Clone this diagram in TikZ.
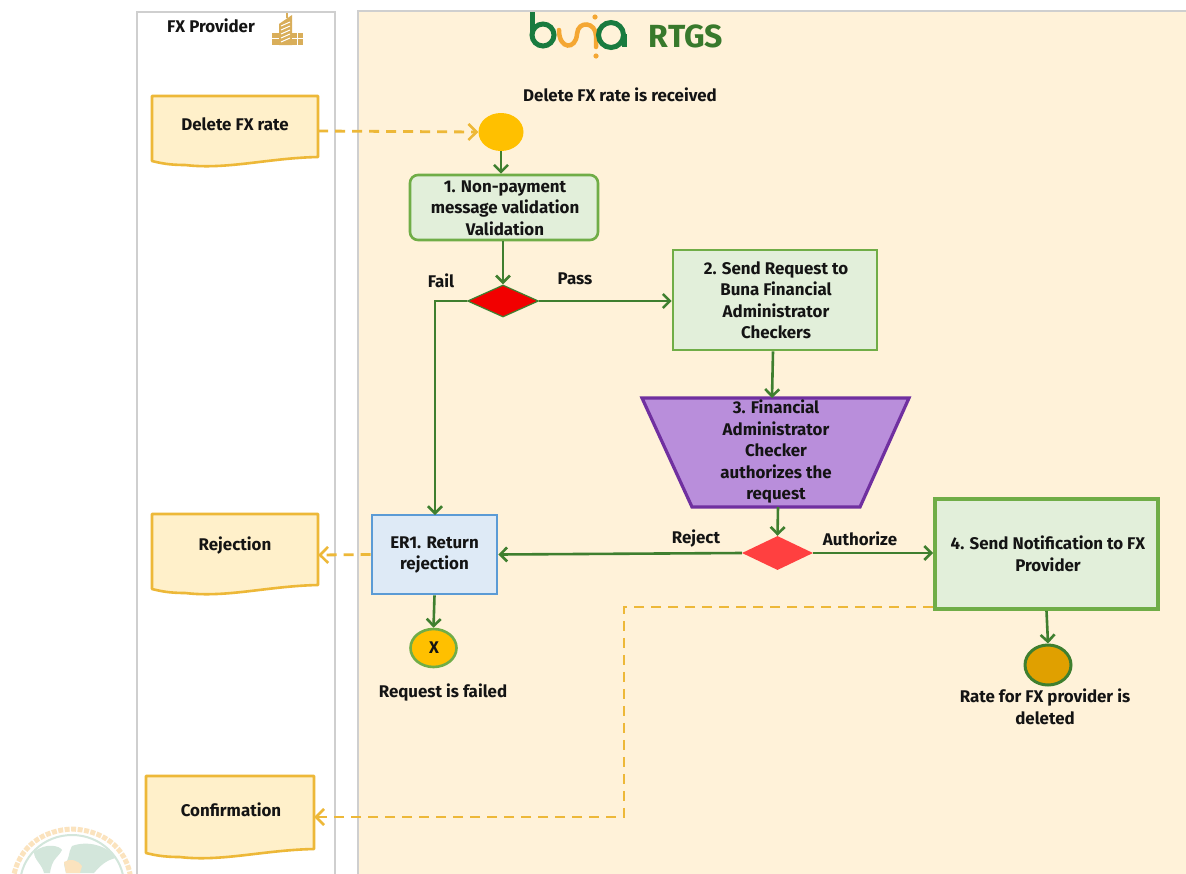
\documentclass[tikz,border=0pt]{standalone}
\usepackage{fontspec}
\setmainfont{Fira Sans}
\usetikzlibrary{arrows.meta,shapes.geometric,calc}
\definecolor{lanebg}{HTML}{FFF2D9}
\definecolor{lanegray}{HTML}{CFCFCF}
\definecolor{grnfill}{HTML}{E2EFDA}
\definecolor{grnline}{HTML}{70AD47}
\definecolor{arrowgrn}{HTML}{3F7F2F}
\definecolor{docfill}{HTML}{FFF0CA}
\definecolor{docline}{HTML}{EDB838}
\definecolor{bluefill}{HTML}{DEEAF6}
\definecolor{blueline}{HTML}{5B9BD5}
\definecolor{purfill}{HTML}{B98EDB}
\definecolor{purline}{HTML}{7030A0}
\definecolor{logogrn}{HTML}{197B3F}
\definecolor{logoorg}{HTML}{F4A733}
\definecolor{rtgsgrn}{HTML}{38792C}
\definecolor{bldg}{HTML}{D9AE5A}
\definecolor{startgold}{HTML}{FFC000}
\definecolor{endgold}{HTML}{E0A000}
\definecolor{mapgrn}{HTML}{D3E6DB}
\definecolor{wheat}{HTML}{FBE3BE}
\tikzset{
  x=1pt,y=-1pt,
  lbl/.style={font=\bfseries\fontsize{16.9}{21.5}\selectfont,text=black!92,align=center,inner sep=0pt},
  flow/.style={draw=arrowgrn,line width=2.6pt,-{Straight Barb[length=7pt,width=14pt,line width=2.6pt]}},
  dashflow/.style={draw=docline,line width=2.8pt,dash pattern=on 10pt off 7pt,-{Straight Barb[length=8pt,width=16pt,line width=2.6pt]}},
  grnbox/.style={draw=grnline,fill=grnfill,line width=2.6pt,inner sep=0pt},
  dochook/.style={inner sep=0pt,draw=none},
}
\newcommand{\docpath}[4]{%
  \draw[docline,fill=docfill,line width=2.6pt,line join=round]
    (#1,#2) -- (#3,#2) -- (#3,#4-8) .. controls ({#1+0.7*(#3-#1)},#4-7) and ({#1+0.45*(#3-#1)},#4+5) .. ({#1+0.2*(#3-#1)},#4) .. controls ({#1+0.1*(#3-#1)},#4) and ({#1+0.05*(#3-#1)},#4-2) .. (#1,#4-4) -- cycle;
}
\begin{document}
\begin{tikzpicture}
\useasboundingbox (0,0) rectangle (1186,873);
\clip (0,0) rectangle (1186,873);
% lanes
\fill[white] (0,0) rectangle (1186,873);
\draw[lanegray,line width=1.2pt] (137,880) -- (137,12) -- (335,12) -- (335,880);
\fill[lanebg] (358,11) rectangle (1186,880);
\draw[lanegray,line width=1.2pt] (358,880) -- (358,11) -- (1186,11);
% emblem bottom-left
\draw[wheat,line width=5pt,dash pattern=on 5pt off 1.5pt] (13,880) .. controls (18,845) and (45,830) .. (72,829) .. controls (100,830) and (127,845) .. (131,880);
\draw[mapgrn,line width=2pt,fill=white] (72,885) ellipse (52 and 50);
\fill[mapgrn] (34,852) .. controls (46,842) and (60,846) .. (62,850) .. controls (58,858) and (52,858) .. (50,873) -- (44,873) .. controls (42,864) and (34,860) .. (34,852) -- cycle;
\fill[mapgrn] (72,846) .. controls (88,840) and (108,846) .. (116,858) .. controls (106,860) and (100,866) .. (94,873) -- (66,873) -- (64,864) .. controls (70,860) and (68,852) .. (72,846) -- cycle;
\fill[wheat] (64,862) .. controls (70,858) and (78,860) .. (82,866) -- (80,873) -- (66,873) -- cycle;
% building icon
\fill[bldg] (279,24) -- (292,15) -- (292,45) -- (279,45) -- cycle;
\draw[bldg,line width=1.2pt] (287,13) -- (287,18);
\fill[bldg] (272,33) rectangle (279,45);
\fill[bldg] (292,33) rectangle (303,45);
\foreach \yy in {26,30,34,38,42}{\draw[white,line width=1pt] (281,\yy) -- (290,\yy-4);}
\draw[white,line width=.8pt] (292,38) -- (303,38) (272,38) -- (279,38) (297,33) -- (297,45);
% logo
\draw[logogrn,line width=5pt] (532,12) -- (532,34);
\draw[logogrn,line width=5pt] (543,35) circle (11);
\draw[logoorg,line width=4.5pt,line cap=round] (559,30) .. controls (559,50) and (576,50) .. (577,34) .. controls (578,20) and (596,22) .. (596,36) -- (596,47);
\fill[logoorg] (595,17) circle (2.6);
\fill[logoorg] (596,56) circle (2.6);
\draw[logogrn,line width=5pt] (611,35) circle (12.5);
\draw[logogrn,line width=4.5pt] (624.5,34) -- (624.5,47);
\node[font=\fontsize{32}{34}\selectfont\bfseries,text=rtgsgrn,inner sep=0pt] (rtgs) at (686,36) {RTGS};
% document shapes
\docpath{152}{96}{318}{165}
\docpath{152}{514}{318}{593}
\docpath{146}{776}{314}{857}
\node[dochook,minimum width=166,minimum height=70] (docdel) at (235,131) {};
\node[dochook,minimum width=166,minimum height=80] (docrej) at (235,555) {};
\node[dochook,minimum width=168,minimum height=82] (docconf) at (230,817) {};
\node[lbl] (tdel) at (235,124) {Delete FX rate};
\node[lbl] (trej) at (235,546) {Rejection};
\node[lbl] (tconf) at (231,810) {Confirmation};
\node[lbl] (tfx) at (211,26) {FX Provider};
% shapes
\node[ellipse,fill=startgold,minimum width=45,minimum height=38,inner sep=0pt] (start) at (501,132) {};
\node[grnbox,rounded corners=8pt,minimum width=188,minimum height=65] (b1) at (504,207.5) {};
\node[lbl] (t1) at (505,208) {1. Non-payment\\message validation\\Validation};
\node[diamond,aspect=2.2,draw=arrowgrn,line width=1.2pt,fill=red!95!black,minimum width=71,minimum height=32,inner sep=0pt] (d1) at (503,301) {};
\node[grnbox,minimum width=204,minimum height=100] (b2) at (775,300) {};
\node[lbl] (t2) at (776,300) {2. Send Request to\\Buna Financial\\Administrator\\Checkers};
\draw[purline,fill=purfill,line width=3.2pt,line join=miter] (642,398) -- (909,398) -- (860,507) -- (692,507) -- cycle;
\coordinate (tzN) at (772,398);
\coordinate (tzS) at (778,507);
\node[lbl] (t3) at (776,452) {3. Financial\\Administrator\\Checker\\authorizes the\\request};
\node[draw=blueline,fill=bluefill,line width=2.6pt,minimum width=125,minimum height=79,inner sep=0pt] (er) at (434.5,554.5) {};
\node[lbl] (ter) at (434.5,555) {ER1. Return\\rejection};
\node[diamond,aspect=2.2,fill=red!75!white,minimum width=71,minimum height=34,inner sep=0pt] (d2) at (777.5,553) {};
\node[grnbox,line width=3.8pt,minimum width=223,minimum height=110] (b4) at (1046.5,554) {};
\node[lbl] (t4) at (1048,554) {4. Send Notification to FX\\Provider};
\node[ellipse,draw=grnline,fill=startgold,line width=2.6pt,minimum width=46,minimum height=38,inner sep=0pt] (xc) at (433.5,648) {};
\node[lbl] (tx) at (434,648) {X};
\node[ellipse,draw=arrowgrn,fill=endgold,line width=3pt,minimum width=46,minimum height=40,inner sep=0pt] (endc) at (1048,665) {};
% free labels
\node[lbl] (trecv) at (620,95) {Delete FX rate is received};
\node[lbl] (tfail) at (441,281) {Fail};
\node[lbl] (tpass) at (575,279) {Pass};
\node[lbl] (trej2) at (696,539) {Reject};
\node[lbl] (tauth) at (860,539) {Authorize};
\node[lbl] (tfailed) at (443,693) {Request is failed};
\node[lbl] (tdeleted) at (1045,707) {Rate for FX provider is\\deleted};
% connectors
\draw[dashflow] (docdel.east) -- (start.west);
\draw[flow] (start.south) -- (start.south |- b1.north);
\draw[flow] (d1.north |- b1.south) -- (d1.north);
\draw[flow] (d1.east) -- (d1.east -| b2.west);
\draw[flow] (d1.west) -- (435,301) -- (435,515);
\draw[flow] ($(b2.south)+(-2,0)$) -- (tzN);
\draw[flow] (tzS) -- (d2.north);
\draw[flow] (d2.west) -- (er.east);
\draw[flow] (d2.east) -- (d2.east -| b4.west);
\draw[flow] (er.south) -- (xc.north);
\draw[flow] (b4.south) -- (endc.north);
\draw[dashflow] (er.west) -- (docrej.east);
\coordinate (bend1) at (624,607);
\coordinate (bend2) at (624,817);
\draw[dashflow] ($(b4.west)+(0,53)$) -- (bend1) -- (bend2) -- (docconf.east);
\end{tikzpicture}
\end{document}
